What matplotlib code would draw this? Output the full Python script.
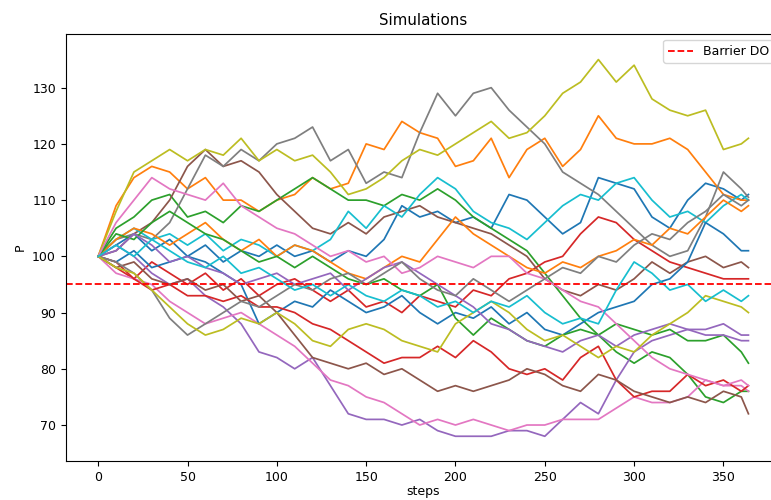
import matplotlib
matplotlib.use("Agg")
import matplotlib.pyplot as plt

# step grid the values were read at (every 10 steps + last step)
steps = list(range(0, 361, 10)) + [364]

# simulated price paths (colour order = default cycle)
blue_1 = [100,102,104,101,103,100,102,99,101,100, 102,100,101,99,101,100,103,109,107,108,
          106,107,105,111,110,107,104,106,114,113, 112,107,105,110,113,112,110,111]
orange_1 = [100,109,114,116,115,112,114,110,110,108, 110,111,114,112,113,120,119,124,122,121,
            116,117,121,114,119,121,116,119,125,121, 120,120,121,119,115,111,110,110]
green_1 = [100,105,107,110,111,107,108,106,109,108, 110,112,114,112,110,110,109,111,110,112,
           110,107,105,103,101,97,93,89,86,83, 81,83,82,79,75,74,76,76]
red_1 = [100,98,96,99,97,95,97,94,96,93, 95,96,94,92,94,91,92,90,93,92,
         91,94,93,96,97,99,100,104,107,106, 103,101,99,98,97,96,96,96]
purple_1 = [100,102,100,97,95,96,93,91,88,83, 82,80,82,77,72,71,71,70,71,69,
            68,68,68,69,69,68,71,74,72,78, 83,85,86,87,87,88,86,86]
brown_1 = [100,101,104,106,110,116,119,116,117,115, 111,108,105,104,106,104,107,108,109,107,
           106,105,104,102,100,96,94,93,95,94, 96,99,97,99,100,98,99,98]
pink_1 = [100,97,96,95,92,90,88,89,90,88, 86,84,81,78,77,75,74,72,70,71,
          70,71,70,69,70,70,71,71,71,73, 75,74,74,75,78,77,77,76]
gray_1 = [100,103,104,103,106,112,118,116,119,117, 120,121,123,117,119,113,115,114,122,129,
          125,129,130,126,123,120,115,113,111,108, 105,102,100,101,107,115,112,110.5]
olive_1 = [100,108,115,117,119,117,119,118,121,117, 119,117,118,115,111,112,114,117,119,118,
           120,122,124,121,122,125,129,131,135,131, 134,128,126,125,126,119,120,121]
cyan_1 = [100,103,105,103,104,102,104,101,103,102, 100,102,101,103,108,105,109,107,111,114,
          112,108,106,105,103,106,109,111,110,113, 114,110,107,108,106,109,111,110]
blue_2 = [100,99,101,98,99,100,99,97,95,88, 90,92,91,94,92,90,91,93,90,88,
          90,89,91,88,90,87,86,88,90,91, 92,95,96,99,106,104,101,101]
orange_2 = [100,103,105,104,102,104,106,103,101,103, 100,102,101,99,97,96,98,100,99,103,
            107,104,102,100,98,97,99,98,100,101, 103,102,105,104,107,110,108,109]
green_2 = [100,104,103,106,108,106,104,103,101,99, 100,98,100,98,96,95,96,94,93,95,
           89,86,89,87,85,84,86,87,86,88, 87,86,87,85,85,86,83,81]
red_2 = [100,99,96,94,95,93,93,92,93,91, 91,90,88,87,85,83,81,82,82,84,
         82,85,83,80,79,80,78,82,84,78, 75,76,76,79,77,78,76,77]
purple_2 = [100,101,104,102,99,100,98,97,95,96, 97,95,96,97,94,96,98,99,97,95,
            93,91,88,87,85,84,83,85,86,84, 86,87,88,87,86,86,85,85]
brown_2 = [100,98,99,96,95,96,94,95,92,93, 90,86,82,81,80,81,79,80,78,76,
           77,76,77,78,80,79,77,76,79,78, 76,75,74,75,74,76,75,72]
pink_2 = [100,106,110,114,112,111,110,113,109,107, 105,104,102,100,101,99,100,97,98,100,
          99,98,100,100,97,96,94,92,91,88, 85,82,80,79,78,77,78,77]
gray_2 = [100,99,97,94,89,86,88,90,92,91, 93,95,94,96,97,95,97,99,96,94,
          93,96,94,92,94,96,98,97,100,99, 102,104,103,106,108,111,109,110]
olive_2 = [100,98,97,94,91,88,86,87,89,88, 90,88,85,84,87,88,87,85,84,83,
           88,90,92,90,87,85,86,84,82,84, 83,86,88,90,93,92,91,90]
cyan_2 = [100,102,100,103,101,99,98,100,97,98, 96,94,95,93,95,93,92,94,93,91,
          92,90,92,91,93,90,88,89,88,94, 99,97,94,95,92,94,92,93]

barrier = 95

paths = [blue_1, orange_1, green_1, red_1, purple_1, brown_1, pink_1, gray_1, olive_1, cyan_1,
         blue_2, orange_2, green_2, red_2, purple_2, brown_2, pink_2, gray_2, olive_2, cyan_2]

plt.rcParams['font.size'] = 9
fig = plt.figure(figsize=(7.71, 5.0), dpi=100)
# axes runs a bit past the right edge, as in the cropped original
ax = fig.add_axes([0.0852, 0.078, 0.9277, 0.8546])

for p in paths:
    ax.plot(steps, p, lw=1.25)
ax.axhline(barrier, color='r', linestyle='--', lw=1.3, label='Barrier DO')

ax.set_ylim(63.6, 139.6)
ax.set_title("Simulations")
ax.set_xlabel("steps", labelpad=1)
ax.set_ylabel("P")
ax.legend(loc='upper right')

fig.savefig("out.png", dpi=100)
